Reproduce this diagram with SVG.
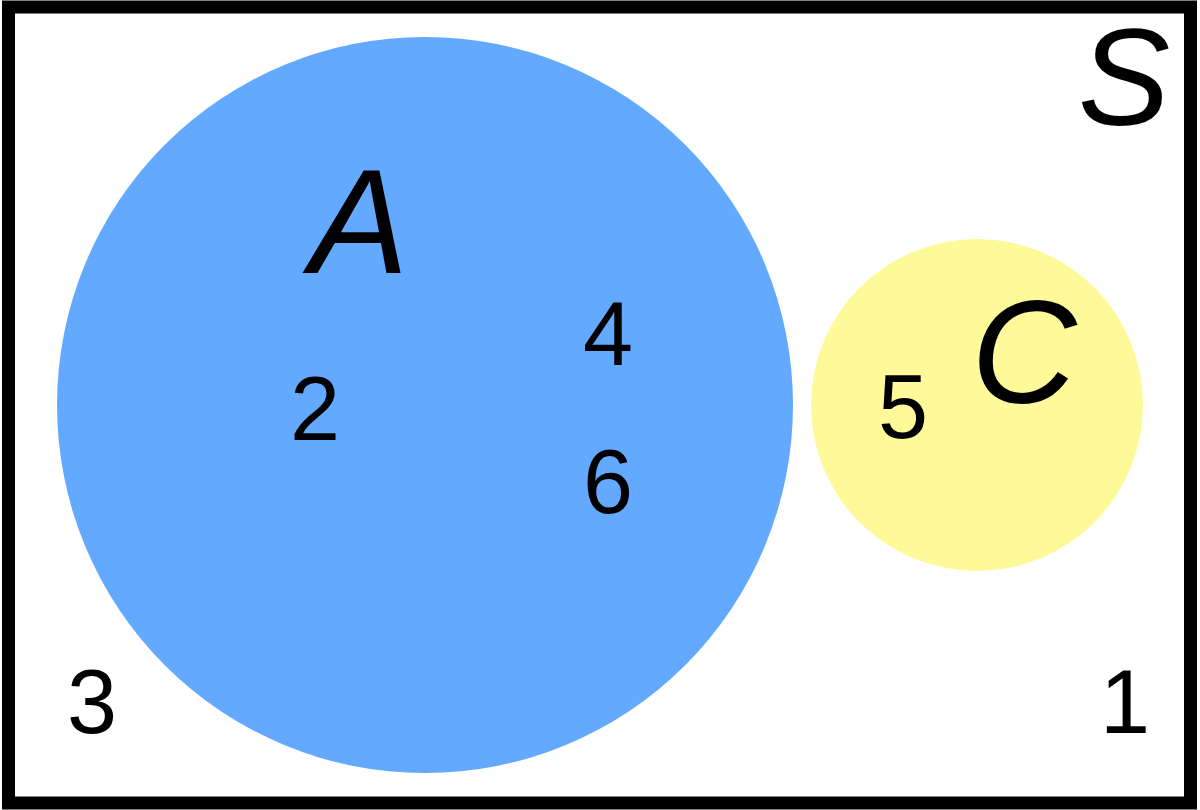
<svg xmlns="http://www.w3.org/2000/svg" width="1200" height="810" viewBox="0 0 1200 810">
<style>
.lbl{font-family:"Liberation Sans",Arial,sans-serif;fill:#000}
.set{font-style:italic;font-size:146px}
.num{font-size:90px;text-anchor:middle}
</style>
<rect width="1200" height="810" fill="#fff"/>
<g id="universe">
<rect x="8.5" y="7" width="1182" height="796" fill="none" stroke="#000" stroke-width="13"/>
<text class="lbl set" x="1170" y="125" text-anchor="end" style="font-size:138px">S</text>
</g>
<g id="setA">
<circle cx="425" cy="405" r="368" fill="#62A9FF"/>
<text class="lbl set" x="359" y="273" text-anchor="middle" style="font-size:148px">A</text>
</g>
<g id="setC">
<circle cx="977" cy="405" r="166" fill="#FFFA99"/>
<text class="lbl set" x="1024" y="403" text-anchor="middle">C</text>
</g>
<g id="elements">
<text class="lbl num" x="315" y="440">2</text>
<text class="lbl num" x="608" y="365">4</text>
<text class="lbl num" x="608" y="513">6</text>
<text class="lbl num" x="903" y="438">5</text>
<text class="lbl num" x="92" y="733">3</text>
<text class="lbl num" x="1125" y="733">1</text>
</g>
<g id="connectors"/>
</svg>
